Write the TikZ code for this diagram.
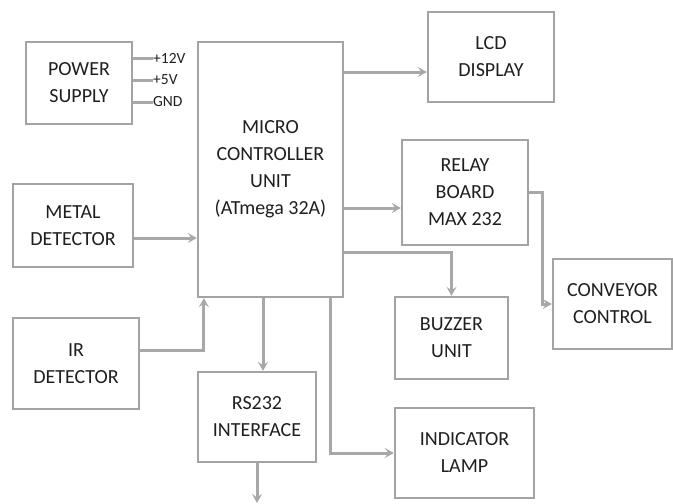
\documentclass[tikz,border=0pt]{standalone}
\usepackage{fontspec}
\setmainfont{Carlito}
\usetikzlibrary{arrows.meta}
\definecolor{boxgray}{gray}{0.64}
\definecolor{linegray}{gray}{0.66}
\definecolor{txt}{gray}{0.12}
\begin{document}
\begin{tikzpicture}[x=1pt,y=-1pt,
  blk/.style={draw=boxgray,line width=2.3pt,fill=white,align=center,text=txt,
    font=\fontsize{20}{27}\selectfont,inner sep=0pt},
  arr/.style={draw=linegray,line width=3pt,-{Stealth[length=9pt,width=10pt,inset=3.5pt]}},
  wire/.style={draw=linegray,line width=3pt},
  lbl/.style={font=\fontsize{15.5}{16}\selectfont,anchor=west,inner sep=0pt,text=txt}]
\useasboundingbox (0,0) rectangle (673,504);
\node[blk,minimum width=106pt,minimum height=82pt] (ps) at (79,83) {POWER\\SUPPLY};
\node[blk,minimum width=120pt,minimum height=83pt] (md) at (73,225.5) {METAL\\DETECTOR};
\node[blk,minimum width=145pt,minimum height=255pt] (mcu) at (270.5,169.5) {MICRO\\CONTROLLER\\UNIT\\(ATmega 32A)};
\node[blk,minimum width=126pt,minimum height=90pt] (lcd) at (491,57) {LCD\\DISPLAY};
\node[blk,minimum width=126pt,minimum height=105pt] (relay) at (465,192.5) {RELAY\\BOARD\\MAX 232};
\node[blk,minimum width=113pt,minimum height=82pt] (buzzer) at (451.5,338) {BUZZER\\UNIT};
\node[blk,minimum width=119pt,minimum height=90pt] (conv) at (612.5,304) {CONVEYOR\\CONTROL};
\node[blk,minimum width=126pt,minimum height=91pt] (ir) at (76,363.5) {IR\\DETECTOR};
\node[blk,minimum width=118pt,minimum height=90pt] (rs) at (257,417) {RS232\\INTERFACE};
\node[blk,minimum width=139pt,minimum height=90pt] (lamp) at (464.5,453) {INDICATOR\\LAMP};
\node[lbl] (v12) at (153,58) {+12V};
\node[lbl] (v5) at (153,80) {+5V};
\node[lbl] (gnd) at (153,102) {GND};
\coordinate (rsout) at (257,503);
\draw[wire] (ps.east |- v12.west) -- (v12.west);
\draw[wire] (ps.east |- v5.west) -- (v5.west);
\draw[wire] (ps.east |- gnd.west) -- (gnd.west);
\draw[arr] (md.east |- 0,238) -- (mcu.west |- 0,238);
\draw[arr] (mcu.east |- 0,72) -- (lcd.west |- 0,72);
\draw[arr] (mcu.east |- 0,208) -- (relay.west |- 0,208);
\draw[arr] (mcu.east |- 0,252) -| (buzzer.north);
\draw[arr] (relay.east) -- ++(13,0) |- (conv.west);
\draw[arr] (ir.east |- 0,350) -| ([xshift=7pt]mcu.south west);
\draw[arr] (mcu.south -| 263,0) -- (rs.north -| 263,0);
\draw[arr] (rs.south) -- (rsout);
\draw[arr] (mcu.south -| 330,0) |- (lamp.west);
\end{tikzpicture}
\end{document}
